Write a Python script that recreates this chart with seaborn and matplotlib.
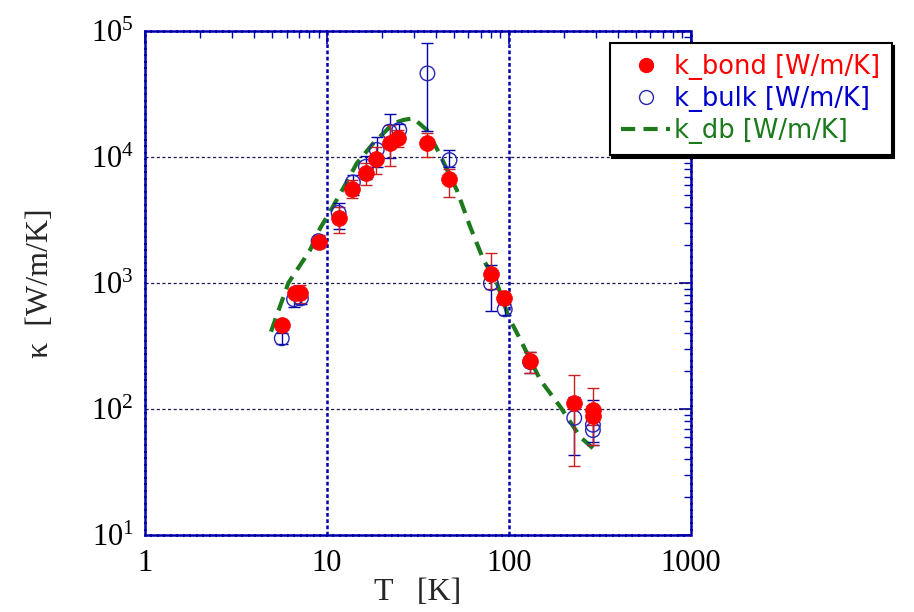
import matplotlib
matplotlib.use("Agg")
import matplotlib.pyplot as plt
import matplotlib.ticker as mticker
from matplotlib.lines import Line2D
import seaborn as sns
import pandas as pd
import numpy as np

# values
T_bond = [5.65, 6.7, 7.1, 9.0, 11.6, 13.8, 16.4, 18.7, 22.1, 24.7, 35.7, 47.2, 79.7, 94.7, 131, 229, 290, 290]
k_bond = [464, 840, 830, 2130, 3260, 5570, 7430, 9640, 12970, 14070, 12970, 6650, 1190, 757, 240, 111, 98, 88]
k_bond_lo = [430, 760, 700, 1900, 2510, 4700, 6000, 7330, 8530, 12000, 10000, 4840, 900, 680, 192, 35, 52, 75]
k_bond_hi = [500, 920, 960, 2400, 4000, 6600, 9000, 12000, 18000, 16500, 15500, 8000, 1740, 860, 285, 186, 148, 105]

T_bulk = [5.65, 6.6, 7.2, 9.0, 11.6, 13.9, 16.4, 18.8, 22.1, 25.0, 35.7, 47.2, 79.7, 95, 131, 229, 290, 290]
k_bulk = [364, 743, 755, 2150, 3610, 6290, 8370, 11400, 15900, 16400, 46100, 9460, 995, 618, 236, 85, 75, 68]
k_bulk_lo = [330, 640, 680, 1950, 2670, 4990, 6660, 8330, 9800, 13500, 16000, 8300, 603, 560, 192, 43, 52, 55]
k_bulk_hi = [400, 860, 840, 2350, 4330, 7200, 10100, 14400, 22000, 18200, 79800, 11400, 1390, 680, 285, 125, 118, 85]

T_db = [4.93, 6.14, 8.09, 9.18, 10.4, 12.3, 14.6, 18.0, 23.2, 26.4, 29.9, 35.4, 41.1, 51.8, 61.3, 72.6, 86, 99.6, 116, 149, 192, 247, 299]
k_db = [411, 1000, 1830, 2720, 3680, 5640, 8910, 12860, 18500, 19700, 20300, 16400, 11000, 5470, 2800, 1525, 1000, 541, 353, 170, 104, 60, 47]

labels = ["k_bond [W/m/K]", "k_bulk [W/m/K]", "k_db [W/m/K]"]

RED = "#ff0000"
BLUE = "#2626b4"
NAVY = "#0000aa"
GREEN = "#1c7a1c"

sns.set_style("white")
plt.rcParams["font.family"] = ["Liberation Serif", "DejaVu Serif"]
plt.rcParams["mathtext.fontset"] = "stix"

fig = plt.figure(figsize=(9.14, 6.12), dpi=100)
ax = fig.add_axes([0.1586, 0.1258, 0.5971, 0.8235])

bond = pd.DataFrame({"T": T_bond, "k": k_bond, "lo": k_bond_lo, "hi": k_bond_hi})
bulk = pd.DataFrame({"T": T_bulk, "k": k_bulk, "lo": k_bulk_lo, "hi": k_bulk_hi})
db = pd.DataFrame({"T": T_db, "k": k_db})

# dashed model curve
sns.lineplot(data=db, x="T", y="k", ax=ax, color=GREEN, lw=3.0, zorder=2,
             sort=False, legend=False)
ax.lines[-1].set_dashes([3.4, 2.0])

# error bars
ax.errorbar(bulk["T"], bulk["k"], yerr=[bulk["k"] - bulk["lo"], bulk["hi"] - bulk["k"]],
            fmt="none", ecolor=NAVY, elinewidth=1, capsize=4, capthick=1, zorder=3)
ax.errorbar(bond["T"], bond["k"], yerr=[bond["k"] - bond["lo"], bond["hi"] - bond["k"]],
            fmt="none", ecolor="#cc2020", elinewidth=1, capsize=4, capthick=1, zorder=3)

sns.scatterplot(data=bulk, x="T", y="k", ax=ax, marker="o", s=110,
                facecolor="none", edgecolor=BLUE, linewidth=1, zorder=4, legend=False)
sns.scatterplot(data=bond, x="T", y="k", ax=ax, marker="o", s=130,
                color=RED, edgecolor=RED, linewidth=0.5, zorder=5, legend=False)

ax.set_xscale("log")
ax.set_yscale("log")
ax.set_xlim(1, 1000)
ax.set_ylim(10, 1e5)

ax.xaxis.set_major_locator(mticker.LogLocator(base=10, numticks=10))
ax.yaxis.set_major_locator(mticker.LogLocator(base=10, numticks=10))
ax.xaxis.set_minor_locator(mticker.LogLocator(base=10, subs=np.arange(2, 10), numticks=20))
ax.yaxis.set_minor_locator(mticker.LogLocator(base=10, subs=np.arange(2, 10), numticks=20))
ax.xaxis.set_major_formatter(mticker.FuncFormatter(lambda v, p: f"{v:g}"))
ax.yaxis.set_major_formatter(mticker.LogFormatterMathtext())
ax.xaxis.set_minor_formatter(mticker.NullFormatter())

ax.tick_params(which="both", direction="in", top=True, right=True, colors=NAVY,
               labelcolor="black", labelsize=22)
ax.tick_params(which="major", length=9, width=1.2)
ax.tick_params(which="minor", length=5, width=1)
ax.tick_params(axis="x", pad=10)
ax.tick_params(axis="y", pad=8)

for sp in ax.spines.values():
    sp.set_color(NAVY)
    sp.set_linewidth(1.8)
    sp.set_linestyle((0, (2, 0.6)))

# grid: vertical blue dotted at decades, horizontal dark dotted
for xv in [10, 100]:
    ax.axvline(xv, color=NAVY, lw=1.8, ls=(0, (1.5, 1)), zorder=1)
for yv in [100, 1000, 10000]:
    ax.axhline(yv, color="#1a1a50", lw=0.9, ls=(0, (2.5, 2)), zorder=1)

ax.set_xlabel("T   [K]", fontsize=23, labelpad=0)
ax.set_ylabel("\u03ba  [W/m/K]", fontsize=23, labelpad=26)

handles = [
    Line2D([], [], marker="o", ls="none", color=RED, markersize=10),
    Line2D([], [], marker="o", ls="none", markerfacecolor="none", markeredgecolor=BLUE,
           markersize=10, markeredgewidth=1),
    Line2D([], [], color=GREEN, lw=3.0, dashes=[3.4, 2.0]),
]
leg = fig.legend(handles, labels, loc="upper left", bbox_to_anchor=(0.667, 0.93),
                 frameon=True, fancybox=False, shadow={"color": "black", "alpha": 1},
                 prop={"family": "DejaVu Sans", "size": 18.5}, handlelength=1.9,
                 handletextpad=0.15, borderpad=0.45, labelspacing=0.22, borderaxespad=0)
leg.get_frame().set_edgecolor("black")
leg.get_frame().set_linewidth(1.5)
for txt, c in zip(leg.get_texts(), [RED, "#0000cc", GREEN]):
    txt.set_color(c)

fig.savefig("out.png", dpi=100, facecolor="white")
